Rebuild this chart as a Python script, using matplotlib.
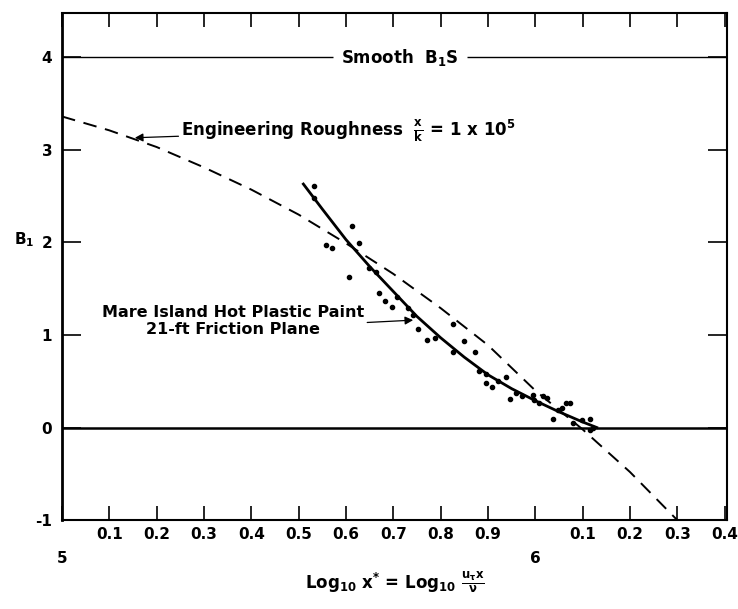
import matplotlib
matplotlib.use("Agg")
import matplotlib.pyplot as plt
import numpy as np

# ---- data ----
# Engineering roughness curve (x/k = 1e5), dashed
rough_x = [5.0, 5.1, 5.2, 5.3, 5.4, 5.5, 5.6, 5.7, 5.8, 5.9, 6.0, 6.1, 6.2, 6.3]
rough_y = [3.36, 3.21, 3.03, 2.81, 2.57, 2.30, 1.99, 1.66, 1.29, 0.89, 0.40, -0.02, -0.48, -1.0]

# Mare Island fitted curve, solid
fit_x = [5.51, 5.55, 5.60, 5.65, 5.70, 5.75, 5.80, 5.85, 5.90, 5.95, 6.00, 6.05, 6.10, 6.13]
fit_y = [2.63, 2.36, 2.03, 1.74, 1.47, 1.20, 0.97, 0.76, 0.57, 0.42, 0.29, 0.17, 0.06, 0.00]

# Measured points
pts_x = [5.533, 5.533, 5.613, 5.628, 5.558, 5.571, 5.607, 5.649, 5.664, 5.670,
         5.683, 5.698, 5.708, 5.732, 5.742, 5.753, 5.772, 5.789, 5.827, 5.850,
         5.827, 5.873, 5.882, 5.896, 5.896, 5.909, 5.922, 5.939, 5.947, 5.960,
         5.973, 5.996, 5.998, 6.008, 6.017, 6.025, 6.038, 6.047, 6.057, 6.066,
         6.074, 6.080, 6.099, 6.116, 6.121, 6.116]
pts_y = [2.61, 2.48, 2.18, 1.99, 1.97, 1.94, 1.63, 1.72, 1.68, 1.45,
         1.37, 1.30, 1.41, 1.29, 1.22, 1.06, 0.95, 0.97, 1.12, 0.93,
         0.82, 0.82, 0.61, 0.58, 0.48, 0.44, 0.50, 0.55, 0.31, 0.37,
         0.34, 0.35, 0.30, 0.26, 0.34, 0.32, 0.09, 0.19, 0.21, 0.27,
         0.27, 0.05, 0.08, 0.09, 0.00, -0.03]

smooth_level = 4.0
zero_level = 0.0

major_x = [5.0, 6.0]
major_labels = ["5", "6"]
minor_x = [5.1, 5.2, 5.3, 5.4, 5.5, 5.6, 5.7, 5.8, 5.9, 6.1, 6.2, 6.3, 6.4]
minor_labels = ["0.1", "0.2", "0.3", "0.4", "0.5", "0.6", "0.7", "0.8", "0.9",
                "0.1", "0.2", "0.3", "0.4"]
y_ticks = [-1, 0, 1, 2, 3, 4]
y_labels = ["-1", "0", "1", "2", "3", "4"]

# ---- figure ----
plt.rcParams['font.family'] = ['DejaVu Sans']
plt.rcParams['font.weight'] = 'bold'
plt.rcParams['mathtext.default'] = 'regular'

fig = plt.figure(figsize=(7.38, 6.09), dpi=100)
ax = fig.add_axes([0.084, 0.146, 0.901, 0.833])
ax.set_xlim(5.0, 6.405)
ax.set_ylim(-1.0, 4.48)

for s in ax.spines.values():
    s.set_linewidth(1.5)
ax.spines['left'].set_linewidth(2.0)

# reference lines
ax.axhline(zero_level, color='black', lw=1.8)
ax.hlines(smooth_level, 5.0, 5.573, color='black', lw=1.0)
ax.hlines(smooth_level, 5.856, 6.405, color='black', lw=1.0)
ax.text(5.714, smooth_level, r"Smooth  B$_{1}$S", ha='center', va='center',
        fontsize=12, fontweight='bold')

# curves
ax.plot(rough_x, rough_y, color='black', lw=1.4, dashes=(7, 4.5))
ax.plot(fit_x, fit_y, color='black', lw=2.0)
ax.scatter(pts_x, pts_y, s=9, color='black', zorder=3)

# annotations
ax.annotate(r"Engineering Roughness  $\frac{x}{k}$ = 1 x 10$^{5}$",
            xy=(5.154, 3.13), xytext=(5.252, 3.21), ha='left', va='center',
            fontsize=12, fontweight='bold',
            arrowprops=dict(arrowstyle='-|>', lw=0.9, color='black',
                            mutation_scale=12, shrinkA=0, shrinkB=0))
ax.annotate("Mare Island Hot Plastic Paint\n21-ft Friction Plane",
            xy=(5.742, 1.16), xytext=(5.362, 1.15), ha='center', va='center',
            fontsize=11.5, fontweight='bold', linespacing=1.1,
            arrowprops=dict(arrowstyle='-|>', lw=0.9, color='black',
                            mutation_scale=12, shrinkA=0, shrinkB=0,
                            relpos=(1.0, 0.45)))

# ticks
ax.set_xticks(major_x, major_labels)
ax.set_xticks(minor_x, minor_labels, minor=True)
ax.tick_params(axis='x', which='both', direction='in', length=10, width=1.2,
               top=True, labelsize=11)
ax.tick_params(axis='x', which='major', pad=22)
ax.tick_params(axis='x', which='minor', pad=5)
ax.set_yticks(y_ticks, y_labels)
ax.tick_params(axis='y', which='both', direction='in', length=14, width=1.2,
               right=True, labelsize=11, pad=7)
for lab in ax.get_xticklabels(which='both') + ax.get_yticklabels():
    lab.set_fontweight('bold')

fig.text(24/738, 1 - 240/609, r"B$_{1}$", ha='center', va='center',
         fontsize=11, fontweight='bold')
fig.text(395/738, 1 - 582/609,
         r"Log$_{10}$ x$^{*}$ = Log$_{10}$ $\frac{u_{\tau}x}{\nu}$",
         ha='center', va='center', fontsize=12, fontweight='bold')

fig.savefig("out.png", dpi=100)
